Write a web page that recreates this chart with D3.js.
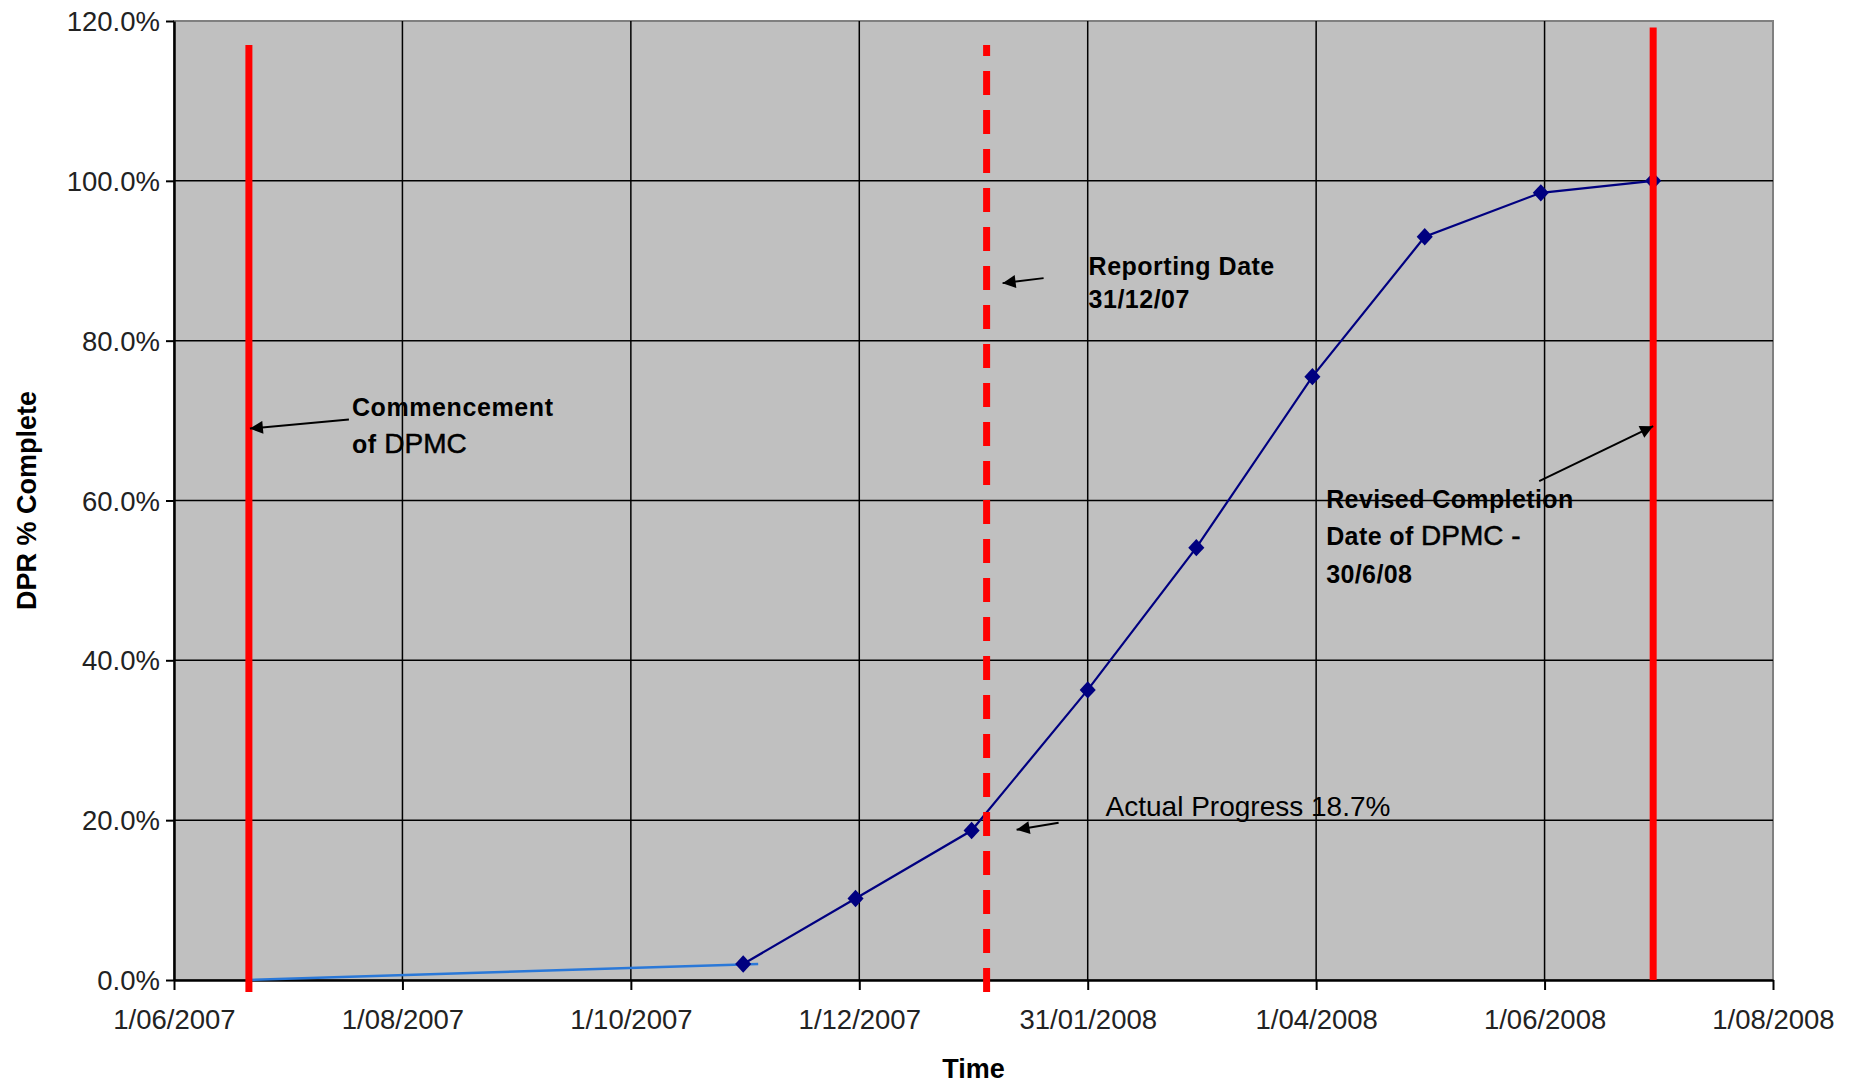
<!DOCTYPE html>
<html>
<head>
<meta charset="utf-8">
<script src="https://cdn.jsdelivr.net/npm/d3@7"></script>
<style>
  body { margin: 0; background: #fff; }
  svg { display: block; font-family: "Liberation Sans", Arial, sans-serif; }
</style>
</head>
<body>
<svg id="chart" width="1856" height="1083"></svg>
<script>
// axis ticks
const xTickDates = ["2007-06-01", "2007-08-01", "2007-10-01", "2007-12-01", "2008-01-31", "2008-04-01", "2008-06-01", "2008-08-01"];
const xTickLabels = ["1/06/2007", "1/08/2007", "1/10/2007", "1/12/2007", "31/01/2008", "1/04/2008", "1/06/2008", "1/08/2008"];
const yTicks = [0, 20, 40, 60, 80, 100, 120];
const yTickLabels = ["0.0%", "20.0%", "40.0%", "60.0%", "80.0%", "100.0%", "120.0%"];

// DPR progress (month ends)
const progressDates = ["2007-10-31", "2007-11-30", "2007-12-31", "2008-01-31", "2008-02-29", "2008-03-31", "2008-04-30", "2008-05-31", "2008-06-30"];
const progressValues = [2.0, 10.2, 18.7, 36.3, 54.1, 75.5, 93.0, 98.5, 100.0];

// early flat segment (lighter blue)
const earlyDates = ["2007-06-21", "2007-11-04"];
const earlyValues = [0, 2.0];

// red marker lines
const commenceDate = "2007-06-21";
const reportDate = "2008-01-04";
const completionDate = "2008-06-30";

const parse = d3.timeParse("%Y-%m-%d");

const svg = d3.select("#chart");
const mLeft = 174, mRight = 1773, mTop = 21, mBottom = 980;

const x = d3.scaleTime()
  .domain([parse("2007-06-01"), parse("2008-08-01")])
  .range([mLeft, mRight]);
const y = d3.scaleLinear().domain([0, 120]).range([mBottom, mTop]);

// plot background
svg.append("rect")
  .attr("x", mLeft).attr("y", mTop)
  .attr("width", mRight - mLeft).attr("height", mBottom - mTop)
  .attr("fill", "#c0c0c0")
  .attr("stroke", "#808080")
  .attr("stroke-width", 2);

// gridlines
svg.append("g").selectAll("line")
  .data(yTicks.filter(d => d > 0 && d < 120))
  .join("line")
  .attr("x1", mLeft).attr("x2", mRight)
  .attr("y1", d => y(d)).attr("y2", d => y(d))
  .attr("stroke", "#000").attr("stroke-width", 1.5);

svg.append("g").selectAll("line")
  .data(xTickDates.slice(1, -1).map(parse))
  .join("line")
  .attr("x1", d => x(d)).attr("x2", d => x(d))
  .attr("y1", mTop).attr("y2", mBottom)
  .attr("stroke", "#000").attr("stroke-width", 1.5);

// axes
const yAxis = d3.axisLeft(y)
  .tickValues(yTicks)
  .tickFormat((d, i) => yTickLabels[i])
  .tickSize(8).tickPadding(6).tickSizeOuter(0);

const xAxis = d3.axisBottom(x)
  .tickValues(xTickDates.map(parse))
  .tickFormat((d, i) => xTickLabels[i])
  .tickSize(10).tickPadding(19).tickSizeOuter(0);

const gy = svg.append("g").attr("transform", `translate(${mLeft},0)`).call(yAxis);
const gx = svg.append("g").attr("transform", `translate(0,${mBottom})`).call(xAxis);

[gx, gy].forEach(g => {
  g.select(".domain").attr("stroke", "#000").attr("stroke-width", 2.5);
  g.selectAll(".tick line").attr("stroke", "#000").attr("stroke-width", 2);
  g.selectAll(".tick text")
    .attr("fill", "#222")
    .style("font-size", "27.5px")
    .style("font-family", "'Liberation Sans', Arial, sans-serif");
});
gy.selectAll(".tick text").attr("dy", "0.35em");

// axis titles
svg.append("text")
  .attr("x", (mLeft + mRight) / 2).attr("y", 1078)
  .attr("text-anchor", "middle")
  .style("font-size", "27px").style("font-weight", "bold")
  .text("Time");

svg.append("text")
  .attr("transform", `translate(36,${(mTop + mBottom) / 2}) rotate(-90)`)
  .attr("text-anchor", "middle")
  .style("font-size", "27px").style("font-weight", "bold")
  .text("DPR % Complete");

// series
const line = d3.line().x(d => x(d[0])).y(d => y(d[1]));

svg.append("path")
  .datum(earlyDates.map((d, i) => [parse(d), earlyValues[i]]))
  .attr("d", line)
  .attr("fill", "none")
  .attr("stroke", "#2a78d8")
  .attr("stroke-width", 2.5);

const progress = progressDates.map((d, i) => [parse(d), progressValues[i]]);

svg.append("path")
  .datum(progress)
  .attr("d", line)
  .attr("fill", "none")
  .attr("stroke", "#000080")
  .attr("stroke-width", 2.2);

svg.append("g").selectAll("path")
  .data(progress)
  .join("path")
  .attr("d", d3.symbol(d3.symbolDiamond2, 165))
  .attr("transform", d => `translate(${x(d[0])},${y(d[1])}) scale(1,1.08)`)
  .attr("fill", "#000080");

// red date lines
svg.append("line")
  .attr("x1", x(parse(commenceDate))).attr("x2", x(parse(commenceDate)))
  .attr("y1", y(117)).attr("y2", mBottom + 12)
  .attr("stroke", "#ff0000").attr("stroke-width", 7);

svg.append("line")
  .attr("x1", x(parse(reportDate))).attr("x2", x(parse(reportDate)))
  .attr("y1", mBottom + 12).attr("y2", y(117))
  .attr("stroke", "#ff0000").attr("stroke-width", 7)
  .attr("stroke-dasharray", "24,15");

svg.append("line")
  .attr("x1", x(parse(completionDate))).attr("x2", x(parse(completionDate)))
  .attr("y1", y(119.2)).attr("y2", mBottom)
  .attr("stroke", "#ff0000").attr("stroke-width", 7);

// annotations
svg.append("defs").append("marker")
  .attr("id", "arrow")
  .attr("viewBox", "0 0 10 10")
  .attr("refX", 10).attr("refY", 5)
  .attr("markerUnits", "userSpaceOnUse")
  .attr("markerWidth", 17).attr("markerHeight", 13)
  .attr("orient", "auto")
  .append("path")
  .attr("d", "M0,0 L10,5 L0,10 z")
  .attr("fill", "#000");

function arrow(x1, y1, x2, y2) {
  svg.append("line")
    .attr("x1", x1).attr("y1", y1).attr("x2", x2).attr("y2", y2)
    .attr("stroke", "#000").attr("stroke-width", 2)
    .attr("marker-end", "url(#arrow)");
}

function label(tx, ty, lines, weight, size, spacing) {
  const t = svg.append("text")
    .style("font-size", size + "px")
    .style("font-weight", weight)
    .style("letter-spacing", spacing + "px");
  lines.forEach((ln, i) => {
    const ts = t.append("tspan").attr("x", tx).attr("y", ty[i]);
    if (Array.isArray(ln)) {
      ts.text(ln[0]);
      t.append("tspan").style("font-size", "28px").style("font-weight", "normal")
        .style("letter-spacing", "0px").style("stroke", "#000").style("stroke-width", 0.5)
        .text(ln[1]);
    } else {
      ts.text(ln);
    }
  });
}

// commencement
const cx = x(parse(commenceDate)) + 1, cy = y(69);
arrow(cx + 99, cy - 9, cx, cy);
label(cx + 102, [cy - 13, cy + 24], ["Commencement", ["of ", "DPMC"]], "bold", 25, 0.6);

// reporting date
const rx = x(parse(reportDate)) + 16, ry = y(87.2);
arrow(rx + 41, ry - 5, rx, ry);
label(rx + 86, [ry - 8, ry + 25], ["Reporting Date", "31/12/07"], "bold", 25, 0.5);

// actual progress
const ax = x(parse(reportDate)) + 30, ay = y(18.8);
arrow(ax + 42, ay - 7, ax, ay);
label(ax + 89, [ay - 14], ["Actual Progress 18.7%"], "normal", 28, 0);

// revised completion
const vx = x(parse(completionDate)), vy = y(69.3);
arrow(vx - 114, vy + 55, vx, vy);
label(vx - 327, [vy + 82, vy + 119, vy + 157], ["Revised Completion", ["Date of ", "DPMC -"], "30/6/08"], "bold", 25, 0.4);
</script>
</body>
</html>
